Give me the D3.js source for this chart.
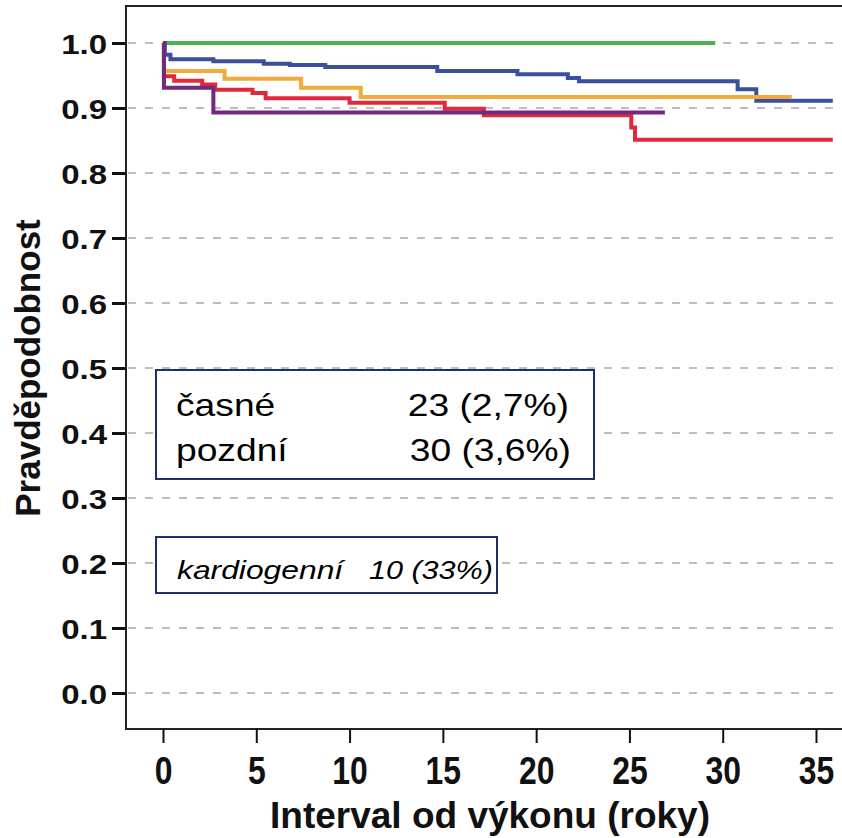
<!DOCTYPE html>
<html>
<head>
<meta charset="utf-8">
<script src="https://cdn.jsdelivr.net/npm/d3@7"></script>
<style>
  body { margin: 0; background: #fff; }
  text { font-family: "Liberation Sans", Arial, sans-serif; }
</style>
</head>
<body>
<div id="chart"></div>
<script>
// survival curves, time in years / probability
const greenT  = [0, 29.6];
const greenS  = [1, 1];
const blueT   = [0, 0.1, 0.4, 2.7, 5.4, 6.8, 8.7, 14.7, 19.0, 21.7, 22.3, 30.8, 31.8, 35.9];
const blueS   = [1, 0.982, 0.975, 0.972, 0.968, 0.966, 0.963, 0.957, 0.952, 0.946, 0.941, 0.929, 0.911, 0.911];
const orangeT = [0, 0.05, 3.3, 7.4, 10.6, 33.7];
const orangeS = [1, 0.957, 0.945, 0.931, 0.917, 0.917];
const redT    = [0, 0.05, 0.6, 2.1, 2.8, 4.8, 5.5, 10.0, 15.1, 17.2, 25.1, 25.3, 35.9];
const redS    = [1, 0.949, 0.942, 0.936, 0.928, 0.923, 0.915, 0.908, 0.899, 0.889, 0.870, 0.851, 0.851];
const purpleT = [0, 0.05, 2.7, 26.9];
const purpleS = [1, 0.931, 0.893, 0.893];

const xTicks = [0, 5, 10, 15, 20, 25, 30, 35];
const yTicks = [0, 0.1, 0.2, 0.3, 0.4, 0.5, 0.6, 0.7, 0.8, 0.9, 1.0];

const boxLines = [["časné", "23 (2,7%)"], ["pozdní", "30 (3,6%)"]];
const boxNote = ["kardiogenní", "10 (33%)"];

const width = 842;
const height = 838;
const frame = {l: 126, t: 6, b: 729, r: 850};

const svg = d3.select("#chart")
    .append("svg")
    .attr("width", width)
    .attr("height", height)
    .attr("viewBox", [0, 0, width, height]);

svg.append("rect").attr("width", width).attr("height", height).attr("fill", "white");

const x = d3.scaleLinear().domain([0, 35]).range([163, 816]);
const y = d3.scaleLinear().domain([0, 1]).range([693, 43]);

// dashed grid
svg.append("g")
    .selectAll("line")
    .data(yTicks)
    .enter()
    .append("line")
    .attr("x1", frame.l + 2)
    .attr("x2", width)
    .attr("y1", d => y(d))
    .attr("y2", d => y(d))
    .attr("stroke", "#a8a8a8")
    .attr("stroke-width", 1.6)
    .attr("stroke-dasharray", "8,9");

// curves
const series = [
    {t: greenT, s: greenS, c: "#4caf50"},
    {t: blueT, s: blueS, c: "#3a509f"},
    {t: orangeT, s: orangeS, c: "#f2aa3c"},
    {t: redT, s: redS, c: "#e2283c"},
    {t: purpleT, s: purpleS, c: "#72297e"}
];
const line = d3.line()
    .x(d => x(d[0]))
    .y(d => y(d[1]))
    .curve(d3.curveStepAfter);

svg.append("g")
    .selectAll("path")
    .data(series)
    .enter()
    .append("path")
    .attr("d", d => line(d.t.map((t, i) => [t, d.s[i]])))
    .attr("fill", "none")
    .attr("stroke", d => d.c)
    .attr("stroke-width", 4);

// frame
svg.append("path")
    .attr("d", `M${frame.r},${frame.t}H${frame.l}V${frame.b}H${frame.r}`)
    .attr("fill", "none")
    .attr("stroke", "#222")
    .attr("stroke-width", 2);

// axes
const yAxis = svg.append("g")
    .attr("transform", `translate(${frame.l},0)`)
    .call(d3.axisLeft(y).tickValues(yTicks).tickFormat(d3.format(".1f")).tickSize(14).tickSizeOuter(0));
yAxis.select(".domain").remove();
yAxis.selectAll(".tick line").attr("stroke", "#111").attr("stroke-width", 3);
yAxis.selectAll(".tick text")
    .attr("x", -16)
    .attr("dy", "0.36em")
    .attr("font-size", 28)
    .attr("font-weight", "bold")
    .attr("fill", "#111")
    .attr("transform", "scale(1.18,1)");

const xAxis = svg.append("g")
    .attr("transform", `translate(0,${frame.b})`)
    .call(d3.axisBottom(x).tickValues(xTicks).tickSize(14).tickSizeOuter(0));
xAxis.select(".domain").remove();
xAxis.selectAll(".tick line").attr("stroke", "#111").attr("stroke-width", 2);
xAxis.selectAll(".tick text")
    .attr("y", 55)
    .attr("dy", 0)
    .attr("font-size", 38)
    .attr("font-weight", "bold")
    .attr("fill", "#111")
    .attr("transform", "scale(0.84,1)");

// axis titles
svg.append("text")
    .attr("x", 490)
    .attr("y", 828)
    .attr("text-anchor", "middle")
    .attr("font-size", 37)
    .attr("font-weight", "bold")
    .attr("fill", "#111")
    .text("Interval od výkonu (roky)");

svg.append("text")
    .attr("transform", "translate(40,368)rotate(-90)")
    .attr("text-anchor", "middle")
    .attr("font-size", 35)
    .attr("font-weight", "bold")
    .attr("fill", "#111")
    .text("Pravděpodobnost");

// text boxes (text is stretched wide like the source picture)
function boxText(px, py, str, anchor, size, italic) {
    svg.append("text")
        .attr("transform", `translate(${px},${py})scale(1.2,1)`)
        .attr("text-anchor", anchor)
        .attr("font-size", size)
        .attr("font-style", italic ? "italic" : "normal")
        .attr("fill", "#000")
        .text(str);
}

svg.append("rect")
    .attr("x", 156).attr("y", 370)
    .attr("width", 438).attr("height", 109)
    .attr("fill", "white")
    .attr("stroke", "#1c2f6d")
    .attr("stroke-width", 2);
boxLines.forEach((r, i) => {
    boxText(176, 416 + i * 45, r[0], "start", 31, false);
    boxText(569 + i * 2, 416 + i * 45, r[1], "end", 31, false);
});

svg.append("rect")
    .attr("x", 156).attr("y", 537)
    .attr("width", 341).attr("height", 56)
    .attr("fill", "white")
    .attr("stroke", "#1c2f6d")
    .attr("stroke-width", 2);
boxText(177, 579, boxNote[0], "start", 26.5, true);
boxText(493, 579, boxNote[1], "end", 25.5, true);
</script>
</body>
</html>
